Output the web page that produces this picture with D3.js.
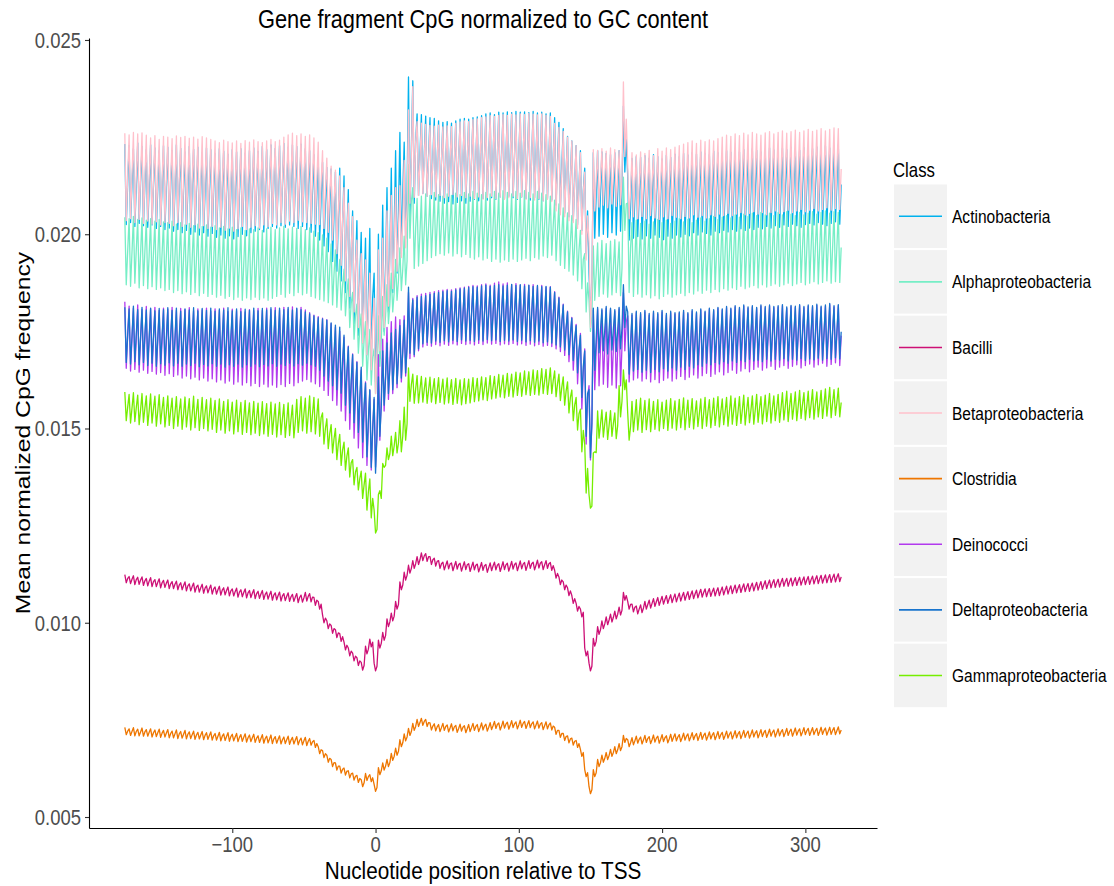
<!DOCTYPE html>
<html>
<head>
<meta charset="utf-8">
<script src="https://cdn.jsdelivr.net/npm/d3@7"></script>
<style>
  html, body { margin: 0; padding: 0; background: #ffffff; }
  svg { display: block; font-family: "Liberation Sans", Arial, Helvetica, sans-serif; }
</style>
</head>
<body>
<svg id="chart" width="1114" height="886"></svg>
<script>
// ---------------- DATA ----------------
// Mean normalized CpG frequency, in units of 1e-5, for each codon frame.
// Codon k starts at position -175 + 3k; "Hi" = first base, "Lo" = second base, "Mid" = third base.
const UNIT = 1e-5;
const START = -175;
const classes = ["Actinobacteria","Alphaproteobacteria","Bacilli","Betaproteobacteria","Clostridia","Deinococci","Deltaproteobacteria","Gammaproteobacteria"];
const colors = ["#00B2EE","#76EEC6","#CD1076","#FFC0CB","#EE7600","#B23AEE","#1874CD","#76EE00"];
const xTicks = [-100, 0, 100, 200, 300];
const yTicks = [0.005, 0.010, 0.015, 0.020, 0.025];
const yTickLabels = ["0.005","0.010","0.015","0.020","0.025"];

const actinobacteriaHi = [
2232,2228,2220,2235,2226,2218,2230,2222,2215,2228,
2224,2216,2230,2221,2212,2226,2219,2224,2210,2222,
2218,2208,2220,2214,2206,2218,2212,2220,2209,2215,
2222,2213,2226,2218,2230,2221,2228,2234,2224,2230,
2226,2232,2220,2215,2205,2195,2185,2172,2168,2160,
2170,2150,2115,2060,2035,2005,1990,2015,1900,2000,
2075,2120,2170,2215,2262,2237,2405,2395,2310,2308,
2304,2300,2298,2292,2288,2290,2286,2292,2296,2298,
2296,2300,2302,2305,2310,2312,2308,2314,2312,2315,
2313,2316,2314,2315,2313,2316,2312,2314,2310,2312,
2300,2288,2272,2252,2240,2228,2215,2170,1900,2210,
2215,2212,2208,2205,2210,2215,2330,2150,2195,2200,
2198,2202,2196,2205,2200,2194,2203,2198,2206,2200,
2208,2204,2210,2206,2212,2208,2205,2214,2210,2207,
2215,2211,2216,2212,2218,2214,2220,2216,2212,2219,
2222,2217,2214,2221,2218,2224,2220,2216,2223,2226,
2220,2225,2218,2228,2222,2226,2230];
const actinobacteriaLo = [
2025,2030,2020,2028,2022,2018,2024,2015,2020,2012,
2016,2008,2012,2004,2010,2000,2006,1998,2004,1995,
2002,1992,1998,1990,1996,1988,1994,2000,1996,2004,
2008,2012,2006,2015,2020,2016,2022,2018,2024,2020,
2015,2020,2012,2005,1995,1985,1970,1955,1930,1905,
1880,1850,1810,1770,1740,1720,1690,1660,1620,1680,
1750,1800,1850,1900,1950,1990,2040,2080,2100,2105,
2098,2092,2088,2085,2080,2084,2078,2082,2086,2080,
2085,2090,2086,2092,2088,2094,2090,2096,2092,2098,
2094,2090,2096,2092,2088,2094,2090,2086,2092,2088,
2075,2065,2055,2045,2035,2025,2010,1950,1800,1990,
1995,2000,1992,2004,1998,2008,2160,1985,1990,1994,
1988,1996,1990,1998,1992,1986,1995,1990,1998,1993,
2000,1996,2004,1998,2006,2002,1998,2008,2004,2010,
2006,2012,2008,2014,2010,2016,2012,2018,2014,2020,
2016,2022,2018,2024,2020,2026,2022,2018,2025,2028,
2024,2030,2026,2022,2028,2032,2026];
const actinobacteriaMid = [
2130,2128,2122,2134,2126,2120,2128,2118,2120,2122,
2120,2112,2124,2114,2110,2116,2114,2112,2108,2110,
2112,2102,2110,2104,2102,2104,2104,2110,2104,2110,
2116,2114,2118,2118,2126,2120,2126,2128,2126,2126,
2122,2128,2118,2110,2100,2090,2078,2064,2050,2034,
2026,2000,1960,1915,1888,1862,1840,1838,1760,1840,
1912,1960,2010,2058,2106,2114,2222,2238,2205,2206,
2200,2196,2193,2188,2184,2187,2182,2187,2191,2189,
2190,2195,2194,2198,2199,2203,2199,2205,2202,2206,
2203,2203,2205,2203,2200,2205,2201,2200,2201,2200,
2188,2177,2164,2148,2137,2126,2112,2060,1850,2100,
2105,2106,2100,2104,2104,2111,2245,2070,2092,2097,
2093,2099,2093,2101,2096,2090,2099,2094,2102,2096,
2104,2100,2107,2102,2109,2105,2101,2111,2107,2108,
2110,2111,2112,2113,2114,2115,2116,2117,2113,2119,
2119,2119,2116,2122,2119,2125,2121,2117,2124,2127,
2122,2127,2122,2125,2125,2129,2128];

const alphaproteobacteriaHi = [
2044,2040,2046,2038,2042,2036,2040,2034,2038,2032,
2030,2034,2026,2030,2024,2028,2022,2026,2020,2024,
2018,2022,2016,2020,2014,2018,2012,2016,2010,2014,
2012,2016,2010,2014,2018,2012,2016,2020,2014,2018,
2015,2020,2012,2016,2008,2004,1998,1990,1975,1960,
1935,1910,1885,1850,1820,1795,1775,1755,1705,1790,
1840,1870,1900,1935,1965,1995,2180,2120,2092,2098,
2104,2100,2108,2102,2098,2104,2100,2106,2102,2108,
2104,2110,2106,2102,2108,2104,2110,2106,2112,2108,
2104,2110,2106,2112,2108,2104,2110,2106,2102,2098,
2088,2078,2068,2055,2048,2038,2010,1950,1830,1970,
1978,1984,1976,1982,1986,1980,2147,2080,2030,2036,
2028,2034,2026,2032,2038,2030,2036,2028,2034,2040,
2032,2038,2030,2036,2042,2034,2040,2046,2038,2044,
2048,2042,2050,2044,2052,2046,2054,2048,2056,2050,
2054,2048,2056,2050,2058,2052,2048,2056,2050,2054,
2058,2052,2056,2060,2054,2058,2056];
const alphaproteobacteriaLo = [
1870,1866,1874,1862,1868,1860,1865,1858,1862,1855,
1858,1850,1855,1847,1852,1845,1850,1842,1848,1840,
1845,1838,1843,1835,1840,1832,1838,1830,1836,1832,
1838,1832,1836,1830,1835,1840,1845,1838,1848,1842,
1850,1844,1848,1840,1836,1832,1828,1824,1818,1812,
1805,1790,1760,1730,1694,1660,1625,1612,1590,1660,
1740,1770,1800,1830,1855,1870,1990,1912,1918,1925,
1932,1940,1945,1950,1946,1952,1944,1950,1942,1948,
1940,1936,1942,1934,1938,1930,1936,1928,1934,1930,
1936,1930,1934,1938,1932,1940,1936,1944,1940,1946,
1932,1920,1912,1905,1895,1880,1860,1800,1750,1830,
1840,1846,1838,1844,1850,1842,2010,1850,1840,1846,
1838,1844,1836,1842,1834,1840,1846,1838,1844,1848,
1842,1850,1846,1854,1848,1856,1850,1858,1852,1860,
1856,1862,1858,1866,1860,1864,1868,1862,1870,1864,
1868,1872,1866,1870,1874,1868,1872,1876,1870,1874,
1878,1872,1876,1880,1874,1878,1876];
const alphaproteobacteriaMid = [
1957,1953,1960,1950,1955,1948,1952,1946,1950,1944,
1944,1942,1940,1938,1938,1936,1936,1934,1934,1932,
1932,1930,1930,1928,1927,1925,1925,1923,1923,1923,
1925,1924,1923,1922,1926,1926,1930,1929,1931,1930,
1932,1932,1930,1928,1922,1918,1913,1907,1896,1886,
1870,1850,1822,1790,1757,1728,1700,1684,1648,1725,
1790,1820,1850,1882,1910,1932,2085,2016,2005,2012,
2018,2020,2026,2026,2022,2028,2022,2028,2022,2028,
2022,2023,2024,2018,2023,2017,2023,2017,2023,2019,
2020,2020,2020,2025,2020,2022,2023,2025,2021,2022,
2010,1999,1990,1980,1972,1959,1935,1875,1790,1900,
1909,1915,1907,1913,1918,1911,2078,1965,1935,1941,
1933,1939,1931,1937,1936,1935,1941,1933,1939,1944,
1937,1944,1938,1945,1945,1945,1945,1952,1945,1952,
1952,1952,1954,1955,1956,1955,1961,1955,1963,1957,
1961,1960,1961,1960,1966,1960,1960,1966,1960,1964,
1968,1962,1966,1970,1964,1968,1966];

const bacilliHi = [
1124,1119,1121,1117,1118,1114,1116,1111,1113,1109,
1110,1106,1107,1103,1105,1100,1102,1097,1099,1095,
1097,1092,1094,1090,1092,1087,1089,1085,1087,1083,
1085,1081,1083,1079,1081,1077,1079,1075,1077,1073,
1075,1071,1078,1075,1065,1055,1020,1005,993,982,
972,950,935,922,910,898,940,958,896,955,
975,1010,1025,1055,1105,1130,1148,1160,1170,1180,
1178,1170,1166,1160,1156,1159,1154,1158,1153,1157,
1152,1156,1151,1155,1150,1154,1156,1152,1157,1153,
1158,1154,1159,1155,1160,1156,1161,1157,1160,1155,
1135,1118,1105,1090,1070,1050,1035,935,896,960,
990,1005,1015,1022,1030,1040,1078,1055,1048,1043,
1046,1055,1058,1062,1065,1068,1070,1072,1074,1076,
1078,1080,1082,1084,1086,1087,1088,1089,1090,1092,
1094,1095,1097,1098,1100,1101,1102,1104,1106,1108,
1110,1111,1112,1114,1114,1115,1116,1117,1118,1119,
1120,1121,1122,1123,1124,1125,1126];
const bacilliLo = [
1103,1101,1098,1099,1096,1095,1093,1093,1090,1091,
1088,1088,1085,1085,1082,1082,1079,1079,1076,1077,
1074,1074,1071,1072,1069,1069,1066,1067,1064,1065,
1062,1063,1060,1061,1058,1059,1056,1057,1055,1055,
1052,1053,1056,1054,1045,1035,1000,985,973,962,
952,930,915,902,890,878,920,938,876,935,
955,990,1005,1035,1085,1110,1128,1140,1150,1160,
1158,1150,1146,1140,1136,1139,1134,1138,1133,1137,
1132,1136,1131,1135,1130,1134,1136,1132,1137,1133,
1138,1134,1139,1135,1140,1136,1141,1137,1140,1135,
1115,1098,1085,1070,1050,1030,1015,915,876,940,
970,985,995,1002,1010,1020,1058,1035,1028,1023,
1026,1035,1038,1042,1045,1048,1050,1052,1054,1056,
1058,1060,1062,1064,1066,1067,1068,1069,1070,1072,
1074,1075,1077,1078,1080,1081,1082,1084,1086,1088,
1090,1091,1092,1094,1094,1095,1096,1097,1098,1099,
1100,1101,1102,1103,1104,1105,1106];
const bacilliMid = [
1114,1112,1111,1110,1108,1107,1106,1104,1103,1102,
1100,1099,1097,1096,1095,1093,1092,1090,1089,1088,
1087,1085,1084,1083,1082,1080,1079,1078,1077,1076,
1075,1074,1073,1072,1071,1070,1069,1068,1067,1066,
1065,1064,1068,1066,1058,1048,1012,997,985,974,
964,942,927,914,902,890,932,950,888,947,
967,1002,1017,1047,1097,1122,1140,1152,1162,1172,
1170,1162,1158,1152,1148,1151,1146,1150,1145,1149,
1144,1148,1143,1147,1142,1146,1148,1144,1149,1145,
1150,1146,1151,1147,1152,1148,1153,1149,1152,1147,
1127,1110,1097,1082,1062,1042,1027,927,888,952,
982,997,1007,1014,1022,1032,1070,1047,1040,1035,
1038,1047,1050,1054,1057,1060,1062,1064,1066,1068,
1070,1072,1074,1076,1078,1079,1080,1081,1082,1084,
1086,1087,1089,1090,1092,1093,1094,1096,1098,1100,
1102,1103,1104,1106,1106,1107,1108,1109,1110,1111,
1112,1113,1114,1115,1116,1117,1118];

const betaproteobacteriaHi = [
2260,2256,2262,2258,2261,2255,2248,2254,2244,2252,
2250,2246,2253,2249,2252,2247,2250,2245,2251,2248,
2244,2240,2236,2242,2238,2235,2240,2234,2241,2237,
2243,2238,2236,2240,2244,2238,2242,2250,2256,2260,
2254,2258,2252,2256,2248,2237,2215,2196,2175,2165,
2150,2120,2080,2045,1985,1950,1934,1900,1835,1960,
1990,2060,2100,2120,2125,2190,2320,2380,2290,2286,
2283,2280,2278,2281,2276,2279,2277,2285,2289,2292,
2290,2295,2297,2300,2302,2305,2303,2306,2308,2306,
2309,2307,2310,2308,2311,2309,2307,2310,2306,2303,
2285,2275,2265,2250,2240,2228,2210,2160,1980,2218,
2216,2220,2214,2222,2218,2215,2392,2180,2210,2204,
2212,2208,2216,2202,2220,2214,2222,2218,2224,2228,
2232,2236,2240,2234,2242,2238,2243,2240,2246,2250,
2255,2252,2258,2254,2260,2256,2262,2258,2255,2261,
2264,2258,2262,2266,2260,2264,2268,2262,2266,2270,
2265,2268,2272,2266,2270,2274,2272];
const betaproteobacteriaLo = [
2035,2040,2030,2038,2028,2034,2026,2032,2024,2030,
2028,2022,2030,2020,2026,2018,2024,2016,2022,2015,
2020,2012,2018,2010,2016,2008,2014,2020,2012,2018,
2022,2016,2024,2020,2028,2024,2030,2026,2034,2030,
2036,2032,2030,2028,2026,2025,2015,2005,1985,1950,
1920,1880,1840,1800,1760,1720,1690,1651,1590,1700,
1760,1815,1860,1905,1940,1965,2080,2095,2100,2104,
2098,2102,2096,2100,2094,2098,2102,2096,2100,2094,
2098,2092,2096,2090,2094,2098,2092,2096,2090,2094,
2098,2092,2096,2090,2094,2088,2092,2086,2090,2084,
2060,2050,2045,2035,2030,2015,2000,1934,1760,2060,
2070,2075,2068,2078,2072,2076,2200,2040,2045,2040,
2046,2040,2048,2042,2038,2045,2040,2048,2044,2040,
2046,2042,2050,2044,2048,2042,2050,2046,2052,2048,
2054,2048,2052,2056,2050,2054,2058,2052,2056,2050,
2056,2060,2054,2058,2062,2056,2060,2064,2058,2062,
2066,2060,2064,2068,2062,2066,2064];
const betaproteobacteriaMid = [
2148,2150,2146,2148,2144,2144,2137,2143,2134,2141,
2139,2134,2141,2134,2139,2132,2137,2130,2136,2131,
2132,2126,2127,2126,2127,2121,2127,2127,2126,2127,
2132,2127,2130,2130,2136,2131,2136,2138,2145,2145,
2145,2145,2141,2142,2137,2131,2115,2100,2080,2058,
2035,2000,1960,1922,1872,1835,1812,1775,1712,1830,
1875,1938,1980,2012,2032,2078,2200,2238,2195,2195,
2190,2191,2187,2190,2185,2188,2190,2190,2194,2193,
2194,2193,2196,2195,2198,2201,2197,2201,2199,2200,
2203,2199,2203,2199,2202,2198,2199,2198,2198,2193,
2172,2162,2155,2142,2135,2121,2105,2047,1870,2139,
2143,2147,2141,2150,2145,2145,2296,2110,2127,2122,
2129,2124,2132,2122,2129,2130,2131,2133,2134,2134,
2139,2139,2145,2139,2145,2140,2146,2143,2149,2149,
2154,2150,2155,2155,2155,2155,2160,2155,2155,2155,
2160,2159,2158,2162,2161,2160,2164,2163,2162,2166,
2165,2164,2168,2167,2166,2170,2168];

const clostridiaHi = [
731,727,730,726,729,725,727,724,726,723,
725,721,724,720,723,719,721,718,720,717,
719,715,718,714,717,713,715,712,714,711,
713,709,712,708,711,707,709,706,708,705,
707,703,705,702,697,681,671,659,648,639,
631,626,619,613,607,596,612,609,584,627,
639,648,664,677,699,714,728,741,751,754,
751,742,740,738,741,737,740,736,739,735,
738,741,738,742,739,743,746,742,747,744,
748,745,749,746,748,745,747,743,745,742,
731,723,715,709,703,697,674,622,578,622,
648,659,666,674,681,689,710,699,704,708,
706,710,707,711,708,712,709,713,714,712,
716,714,717,715,718,716,719,717,720,718,
721,719,722,720,723,721,724,722,725,723,
726,724,727,725,728,726,729,727,730,728,
730,728,731,729,731,730,732];
const clostridiaLo = [
712,710,709,709,708,708,706,707,705,706,
704,704,702,703,701,702,700,701,699,700,
698,698,696,697,695,696,694,695,693,694,
692,692,690,691,689,690,688,689,687,688,
686,686,684,685,679,663,653,641,630,621,
613,608,601,595,589,578,594,591,566,609,
621,630,646,659,681,696,710,723,733,736,
733,724,722,720,723,719,722,718,721,717,
720,723,720,724,721,725,728,724,729,726,
730,727,731,728,730,727,729,725,727,724,
713,705,697,691,685,679,656,604,560,604,
630,641,648,656,663,671,692,681,686,690,
688,692,689,693,690,694,691,695,696,694,
698,696,699,697,700,698,701,699,702,700,
703,701,704,702,705,703,706,704,707,705,
708,706,709,707,710,708,711,709,712,710,
712,710,713,711,713,712,714];
const clostridiaMid = [
721,720,720,719,719,718,717,717,716,716,
715,714,714,713,713,712,711,711,710,710,
709,708,708,707,707,706,705,705,704,704,
703,702,702,701,701,700,699,699,698,698,
697,696,695,694,689,673,663,651,640,631,
623,618,611,605,599,588,604,601,576,619,
631,640,656,669,691,706,720,733,743,746,
743,734,732,730,733,729,732,728,731,727,
730,733,730,734,731,735,738,734,739,736,
740,737,741,738,740,737,739,735,737,734,
723,715,707,701,695,689,666,614,570,614,
640,651,658,666,673,681,702,691,696,700,
698,702,699,703,700,704,701,705,706,704,
708,706,709,707,710,708,711,709,712,710,
713,711,714,712,715,713,716,714,717,715,
718,716,719,717,720,718,721,719,722,720,
722,720,723,721,723,722,724];

const deinococciHi = [
1826,1815,1810,1818,1806,1814,1808,1812,1804,1810,
1807,1812,1804,1809,1806,1811,1803,1808,1805,1810,
1802,1808,1804,1810,1801,1807,1803,1809,1800,1806,
1803,1809,1804,1810,1806,1811,1805,1812,1807,1813,
1808,1812,1805,1798,1792,1788,1784,1780,1770,1761,
1750,1735,1712,1692,1672,1650,1620,1598,1575,1690,
1730,1760,1775,1787,1780,1790,1850,1835,1842,1846,
1848,1850,1852,1855,1856,1858,1857,1860,1862,1864,
1866,1868,1867,1870,1872,1869,1874,1877,1872,1875,
1870,1873,1869,1871,1868,1870,1866,1868,1864,1865,
1852,1838,1820,1802,1786,1768,1745,1705,1610,1805,
1808,1804,1810,1806,1802,1808,1850,1790,1792,1798,
1794,1800,1792,1798,1794,1800,1792,1798,1795,1797,
1800,1795,1802,1797,1805,1799,1807,1803,1809,1805,
1811,1807,1813,1809,1815,1810,1813,1809,1815,1811,
1815,1811,1813,1816,1810,1814,1812,1816,1811,1815,
1813,1817,1812,1815,1819,1813,1816];
const deinococciLo = [
1655,1648,1652,1645,1650,1642,1647,1640,1644,1637,
1641,1634,1638,1630,1635,1628,1632,1625,1630,1622,
1628,1620,1625,1617,1622,1614,1620,1612,1618,1610,
1616,1608,1614,1607,1612,1606,1613,1608,1616,1610,
1618,1622,1626,1620,1615,1608,1598,1585,1572,1560,
1545,1520,1498,1475,1450,1425,1405,1393,1400,1470,
1545,1575,1590,1605,1620,1635,1680,1685,1700,1710,
1714,1712,1716,1713,1717,1714,1718,1715,1719,1716,
1718,1715,1719,1716,1720,1717,1719,1715,1718,1716,
1719,1715,1718,1714,1717,1713,1716,1712,1714,1711,
1705,1698,1688,1672,1650,1615,1550,1460,1419,1600,
1610,1614,1606,1612,1604,1610,1700,1620,1625,1630,
1622,1628,1620,1626,1618,1624,1630,1622,1628,1634,
1626,1632,1638,1630,1636,1642,1634,1640,1646,1638,
1644,1650,1642,1648,1654,1646,1652,1658,1650,1656,
1660,1652,1658,1662,1655,1660,1664,1656,1662,1666,
1658,1664,1668,1660,1665,1669,1662];
const deinococciMid = [
1740,1731,1731,1731,1728,1728,1727,1726,1724,1723,
1724,1723,1721,1720,1720,1719,1717,1716,1717,1716,
1715,1714,1714,1713,1711,1710,1711,1710,1709,1708,
1709,1708,1709,1708,1709,1708,1709,1710,1711,1711,
1713,1717,1715,1709,1703,1698,1691,1682,1671,1660,
1647,1627,1605,1583,1561,1537,1512,1495,1487,1580,
1637,1667,1682,1696,1700,1712,1765,1760,1771,1778,
1781,1781,1784,1784,1786,1786,1787,1787,1790,1790,
1792,1791,1793,1793,1796,1793,1796,1796,1795,1795,
1794,1794,1793,1792,1792,1791,1791,1790,1789,1788,
1778,1768,1754,1737,1718,1691,1647,1582,1514,1702,
1709,1709,1708,1709,1703,1709,1775,1705,1708,1714,
1708,1714,1706,1712,1706,1712,1711,1710,1711,1715,
1713,1713,1720,1713,1720,1720,1720,1721,1727,1721,
1727,1728,1727,1728,1734,1728,1732,1733,1732,1733,
1737,1731,1735,1739,1732,1737,1738,1736,1736,1740,
1735,1740,1740,1737,1742,1741,1739];

const deltaproteobacteriaHi = [
1812,1808,1815,1806,1812,1805,1810,1803,1809,1806,
1811,1804,1810,1802,1808,1805,1811,1803,1809,1804,
1810,1802,1808,1805,1811,1803,1808,1801,1807,1804,
1810,1803,1809,1805,1811,1804,1810,1806,1812,1805,
1810,1806,1800,1795,1790,1785,1782,1779,1772,1766,
1761,1740,1710,1690,1670,1658,1617,1600,1580,1633,
1700,1720,1746,1755,1765,1779,1864,1831,1838,1840,
1842,1845,1848,1850,1852,1855,1853,1857,1859,1861,
1863,1865,1864,1867,1869,1866,1868,1870,1867,1869,
1871,1868,1870,1867,1869,1866,1868,1865,1866,1864,
1850,1836,1818,1800,1784,1765,1740,1700,1600,1810,
1812,1808,1814,1810,1806,1812,1870,1800,1796,1802,
1798,1804,1796,1802,1798,1804,1796,1802,1798,1800,
1804,1798,1806,1800,1808,1802,1810,1806,1812,1808,
1814,1810,1816,1812,1818,1813,1816,1812,1818,1814,
1818,1814,1816,1819,1813,1817,1815,1819,1814,1818,
1816,1820,1815,1818,1822,1816,1819];
const deltaproteobacteriaLo = [
1670,1666,1672,1664,1670,1662,1668,1660,1667,1663,
1669,1661,1668,1660,1666,1662,1668,1659,1665,1661,
1667,1660,1666,1658,1664,1660,1666,1658,1664,1660,
1666,1659,1665,1661,1667,1660,1666,1662,1668,1661,
1667,1663,1668,1664,1660,1650,1635,1622,1610,1600,
1591,1560,1540,1515,1490,1465,1427,1400,1385,1480,
1560,1590,1600,1615,1630,1643,1694,1690,1705,1718,
1722,1720,1725,1722,1726,1723,1727,1724,1728,1725,
1727,1724,1728,1725,1729,1726,1728,1724,1727,1725,
1728,1724,1727,1723,1726,1722,1725,1721,1723,1720,
1715,1710,1702,1690,1675,1643,1580,1480,1425,1650,
1695,1700,1692,1702,1698,1705,1760,1640,1648,1652,
1645,1650,1644,1652,1646,1654,1648,1656,1650,1658,
1652,1660,1656,1664,1660,1668,1664,1670,1666,1672,
1668,1674,1670,1676,1672,1678,1674,1676,1672,1678,
1674,1678,1676,1680,1674,1678,1676,1680,1675,1679,
1677,1681,1676,1680,1678,1682,1679];
const deltaproteobacteriaMid = [
1741,1737,1744,1735,1741,1734,1739,1732,1738,1735,
1740,1733,1739,1731,1737,1734,1740,1731,1737,1733,
1739,1731,1737,1732,1738,1732,1737,1730,1736,1732,
1738,1731,1737,1733,1739,1732,1738,1734,1740,1733,
1739,1735,1734,1730,1725,1718,1708,1700,1691,1683,
1676,1650,1625,1602,1580,1562,1522,1500,1483,1556,
1630,1655,1673,1685,1698,1711,1779,1760,1771,1779,
1782,1783,1787,1786,1789,1789,1790,1791,1794,1793,
1795,1795,1796,1796,1799,1796,1798,1797,1797,1797,
1800,1796,1799,1795,1798,1794,1797,1793,1795,1792,
1782,1773,1760,1745,1730,1704,1660,1590,1512,1730,
1754,1754,1753,1756,1752,1758,1815,1720,1722,1727,
1722,1727,1720,1727,1722,1729,1722,1729,1724,1729,
1728,1729,1731,1732,1734,1735,1737,1738,1739,1740,
1741,1742,1743,1744,1745,1746,1745,1744,1745,1746,
1746,1746,1746,1750,1744,1748,1746,1750,1745,1749,
1747,1751,1746,1749,1750,1749,1749];

const gammaproteobacteriaHi = [
1594,1588,1592,1586,1590,1584,1589,1583,1587,1580,
1584,1578,1582,1576,1581,1577,1583,1575,1580,1574,
1578,1572,1576,1570,1574,1568,1573,1567,1572,1566,
1570,1565,1569,1564,1568,1563,1567,1562,1566,1560,
1575,1582,1578,1584,1580,1576,1540,1525,1510,1500,
1485,1465,1450,1420,1400,1390,1385,1370,1290,1330,
1410,1450,1480,1490,1520,1555,1656,1640,1636,1634,
1630,1632,1628,1631,1627,1630,1626,1629,1625,1628,
1627,1631,1629,1633,1631,1636,1634,1639,1637,1642,
1640,1645,1643,1648,1646,1651,1649,1654,1652,1656,
1648,1640,1633,1620,1599,1580,1550,1460,1330,1437,
1545,1548,1542,1546,1540,1610,1651,1540,1570,1574,
1578,1572,1576,1570,1574,1568,1573,1577,1571,1575,
1579,1573,1577,1571,1576,1580,1574,1578,1582,1576,
1580,1584,1578,1582,1586,1580,1584,1588,1582,1586,
1590,1584,1588,1592,1596,1590,1594,1598,1592,1596,
1600,1594,1598,1602,1606,1600,1604];
const gammaproteobacteriaLo = [
1520,1514,1518,1510,1516,1508,1514,1506,1512,1504,
1508,1500,1506,1498,1504,1496,1502,1495,1500,1494,
1498,1490,1496,1488,1494,1486,1492,1485,1490,1484,
1488,1482,1486,1480,1485,1478,1484,1477,1482,1476,
1490,1494,1488,1492,1486,1480,1460,1448,1437,1420,
1405,1393,1375,1355,1342,1320,1290,1270,1231,1340,
1400,1420,1430,1437,1440,1470,1570,1565,1566,1568,
1565,1568,1564,1567,1563,1566,1562,1565,1561,1564,
1566,1569,1571,1574,1572,1576,1578,1581,1579,1583,
1581,1585,1583,1587,1585,1588,1586,1590,1588,1590,
1582,1572,1560,1540,1520,1496,1440,1334,1295,1440,
1475,1478,1472,1480,1474,1530,1600,1470,1492,1496,
1490,1497,1492,1498,1494,1500,1495,1501,1496,1502,
1497,1503,1499,1505,1500,1506,1502,1508,1504,1510,
1506,1511,1508,1513,1509,1515,1511,1516,1512,1518,
1514,1520,1516,1522,1518,1524,1520,1526,1522,1528,
1524,1530,1526,1532,1528,1534,1530];
const gammaproteobacteriaMid = [
1555,1552,1554,1548,1552,1546,1551,1545,1549,1542,
1546,1540,1544,1537,1542,1536,1542,1535,1540,1534,
1538,1531,1536,1529,1534,1527,1532,1526,1531,1525,
1529,1523,1528,1522,1526,1521,1525,1520,1524,1518,
1532,1538,1533,1538,1533,1528,1500,1486,1473,1460,
1445,1429,1412,1388,1371,1355,1337,1320,1240,1320,
1405,1435,1455,1463,1480,1512,1613,1602,1601,1601,
1598,1600,1596,1599,1595,1598,1594,1597,1593,1596,
1596,1600,1600,1603,1601,1606,1606,1610,1608,1612,
1610,1615,1613,1617,1615,1619,1617,1622,1620,1623,
1615,1606,1596,1580,1560,1538,1495,1397,1300,1438,
1510,1513,1507,1513,1507,1570,1625,1505,1531,1535,
1534,1534,1534,1534,1534,1534,1534,1539,1533,1538,
1538,1538,1538,1538,1538,1543,1538,1543,1543,1543,
1543,1547,1543,1547,1547,1547,1547,1552,1547,1552,
1552,1552,1552,1557,1557,1557,1557,1562,1557,1562,
1562,1562,1562,1567,1567,1567,1567];

const frames = [
  [actinobacteriaHi, actinobacteriaLo, actinobacteriaMid],
  [alphaproteobacteriaHi, alphaproteobacteriaLo, alphaproteobacteriaMid],
  [bacilliHi, bacilliLo, bacilliMid],
  [betaproteobacteriaHi, betaproteobacteriaLo, betaproteobacteriaMid],
  [clostridiaHi, clostridiaLo, clostridiaMid],
  [deinococciHi, deinococciLo, deinococciMid],
  [deltaproteobacteriaHi, deltaproteobacteriaLo, deltaproteobacteriaMid],
  [gammaproteobacteriaHi, gammaproteobacteriaLo, gammaproteobacteriaMid]
];

// interleave the three codon frames into one position series per class
const series = classes.map((name, i) => {
  const [f0, f1, f2] = frames[i];
  const n = Math.min(f0.length, f1.length, f2.length);
  const pts = [];
  for (let k = 0; k < n; k++) {
    pts.push({ x: START + 3 * k, y: f0[k] * UNIT });
    pts.push({ x: START + 3 * k + 1, y: f1[k] * UNIT });
    pts.push({ x: START + 3 * k + 2, y: f2[k] * UNIT });
  }
  return { name, color: colors[i], pts };
});

// ---------------- DRAW ----------------
const svg = d3.select("#chart");
svg.append("rect").attr("width", 1114).attr("height", 886).attr("fill", "#ffffff");

const panel = { left: 89, right: 877, top: 38, bottom: 828 };
const SX = 0.84; // horizontal text compression seen in the reference

const x = d3.scaleLinear().domain([-200, 350]).range([panel.left, panel.right]);
const y = d3.scaleLinear().domain([0.004717, 0.025051]).range([panel.bottom, panel.top]);

// lines
const line = d3.line().x(d => x(d.x)).y(d => y(d.y));
const gLines = svg.append("g");
series.forEach(s => {
  gLines.append("path")
    .datum(s.pts)
    .attr("d", line)
    .attr("fill", "none")
    .attr("stroke", s.color)
    .attr("stroke-width", 1.3)
    .attr("stroke-linejoin", "round");
});

// axes
const xAxis = d3.axisBottom(x).tickValues(xTicks).tickSize(5).tickSizeOuter(0).tickFormat(d => "");
const yAxis = d3.axisLeft(y).tickValues(yTicks).tickSize(4).tickSizeOuter(0).tickFormat(d => "");
const gx = svg.append("g").attr("transform", `translate(0,${panel.bottom})`).call(xAxis);
const gy = svg.append("g").attr("transform", `translate(${panel.left},0)`).call(yAxis);
[gx, gy].forEach(g => {
  g.select(".domain").attr("stroke", "#000").attr("stroke-width", 1.1);
  g.selectAll(".tick line").attr("stroke", "#333").attr("stroke-width", 1.1);
});

// text helper (compressed horizontally like the reference)
function ctext(parent, tx, ty, str, size, anchor, color, extra) {
  const g = parent.append("g").attr("transform", `translate(${tx},${ty}) scale(${SX},1)` + (extra || ""));
  g.append("text").attr("x", 0).attr("y", 0)
    .attr("text-anchor", anchor).attr("font-size", size).attr("fill", color).text(str);
  return g;
}
yTicks.forEach((v, i) => ctext(svg, 81, y(v) + 8, yTickLabels[i], 22, "end", "#4d4d4d"));
xTicks.forEach(v => ctext(svg, x(v), 852, v < 0 ? "\u2212" + Math.abs(v) : String(v), 22, "middle", "#4d4d4d"));

// titles
ctext(svg, (panel.left + panel.right) / 2, 28, "Gene fragment CpG normalized to GC content", 26, "middle", "#000");
ctext(svg, (panel.left + panel.right) / 2, 879, "Nucleotide position relative to TSS", 24.7, "middle", "#000");
ctext(svg, 30, (panel.top + panel.bottom) / 2, "Mean normalized CpG frequency", 24.7, "middle", "#000", " rotate(-90)");

// legend
const leg = svg.append("g");
ctext(leg, 893, 177, "Class", 20, "start", "#000");
const keyTop = 184.5, keyStep = 65.6, keyH = 63.5;
classes.forEach((c, i) => {
  const top = keyTop + i * keyStep;
  const cy = top + keyH / 2;
  leg.append("rect").attr("x", 894).attr("y", top).attr("width", 53).attr("height", keyH).attr("fill", "#f2f2f2");
  leg.append("line").attr("x1", 899).attr("x2", 942).attr("y1", cy).attr("y2", cy)
    .attr("stroke", colors[i]).attr("stroke-width", 1.6);
  ctext(leg, 952, cy + 6.5, c, 18.5, "start", "#000");
});
</script>
</body>
</html>
